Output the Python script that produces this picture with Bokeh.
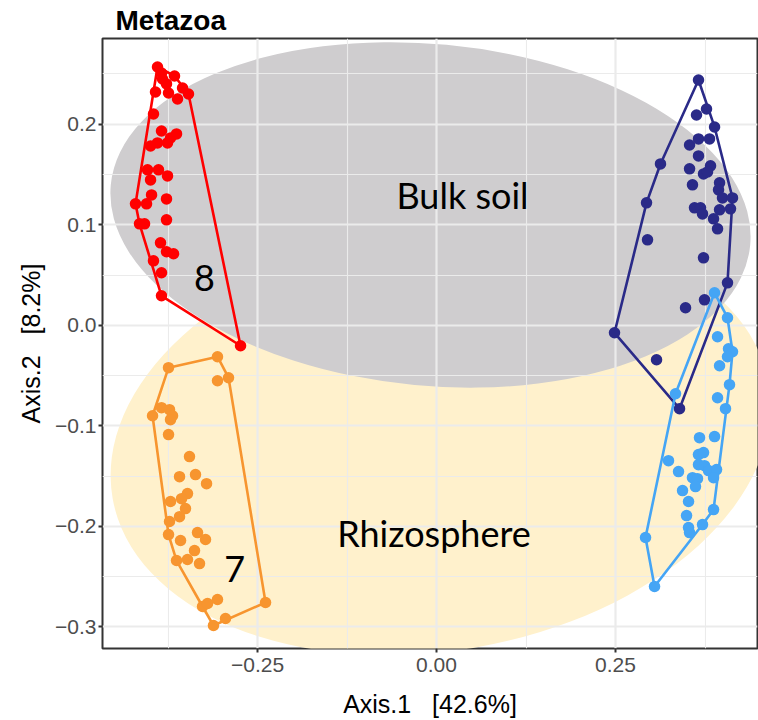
import numpy as np
from bokeh.plotting import figure
from bokeh.models import Range1d, FixedTicker, Label
from bokeh.embed import file_html
from bokeh.resources import INLINE

# ---------------- data ----------------
title_text = "Metazoa"
x_label = "Axis.1\u00a0\u00a0\u00a0[42.6%]"
y_label = "Axis.2\u00a0\u00a0\u00a0[8.2%]"

x_ticks = [-0.25, 0.0, 0.25]
x_tick_labels = ["\u22120.25", "0.00", "0.25"]
x_minor = [-0.375, -0.125, 0.125, 0.375]
y_ticks = [-0.3, -0.2, -0.1, 0.0, 0.1, 0.2]
y_tick_labels = ["\u22120.3", "\u22120.2", "\u22120.1", "0.0", "0.1", "0.2"]
y_minor = [-0.25, -0.15, -0.05, 0.05, 0.15, 0.25]

# Bulk soil (red)
red_x = [-0.3897, -0.3841, -0.3827, -0.3659, -0.3771, -0.3925, -0.3743, -0.3617, -0.3547, -0.3464,
         -0.3953, -0.3841, -0.3994, -0.3897, -0.3757, -0.3715, -0.3631, -0.4036, -0.3883, -0.3994,
         -0.3757, -0.4204, -0.4050, -0.3980, -0.3771, -0.4148, -0.4078, -0.3771, -0.3855, -0.3771,
         -0.3673, -0.3953, -0.3841, -0.3841, -0.2737]
red_y = [0.2570, 0.2510, 0.2450, 0.2480, 0.2401, 0.2321, 0.2311, 0.2251, 0.2361, 0.2301,
         0.2102, 0.1933, 0.1784, 0.1814, 0.1814, 0.1864, 0.1904, 0.1546, 0.1546, 0.1446,
         0.1486, 0.1208, 0.1208, 0.1297, 0.1257, 0.1009, 0.1009, 0.1049, 0.0820, 0.0731,
         0.0711, 0.0641, 0.0522, 0.0293, -0.0204]

# Rhizosphere (orange)
orange_x = [-0.3743, -0.3059, -0.2905, -0.3059, -0.3966, -0.3841, -0.3729, -0.3687, -0.3715, -0.3743,
            -0.3450, -0.3589, -0.3366, -0.3212, -0.3478, -0.3715, -0.3561, -0.3506, -0.3589, -0.3729,
            -0.3743, -0.3338, -0.3575, -0.3226, -0.3380, -0.3631, -0.3478, -0.3310, -0.3268, -0.3198,
            -0.3059, -0.2947, -0.3115, -0.2388]
orange_y = [-0.0422, -0.0313, -0.0522, -0.0552, -0.0900, -0.0820, -0.0840, -0.0900, -0.0939, -0.1088,
            -0.1307, -0.1506, -0.1486, -0.1576, -0.1675, -0.1754, -0.1725, -0.1824, -0.1904, -0.1953,
            -0.2083, -0.2063, -0.2142, -0.2132, -0.2242, -0.2341, -0.2331, -0.2371, -0.2798, -0.2768,
            -0.2729, -0.2918, -0.2987, -0.2758]

# Bulk soil (navy)
navy_x = [0.3659, 0.3771, 0.3631, 0.3883, 0.3659, 0.3813, 0.3534, 0.3659, 0.3128, 0.3534,
          0.3827, 0.3729, 0.3785, 0.3575, 0.3953, 0.3939, 0.3994, 0.4134, 0.2933, 0.3603,
          0.3687, 0.3715, 0.3953, 0.4106, 0.3869, 0.3925, 0.2947, 0.3729, 0.4064, 0.3743,
          0.3478, 0.2486, 0.3073, 0.3394]
navy_y = [0.2440, 0.2152, 0.2092, 0.1973, 0.1854, 0.1854, 0.1794, 0.1685, 0.1605, 0.1556,
          0.1586, 0.1506, 0.1526, 0.1397, 0.1417, 0.1347, 0.1267, 0.1267, 0.1218, 0.1168,
          0.1168, 0.1108, 0.1148, 0.1158, 0.1059, 0.0959, 0.0850, 0.0671, 0.0422, 0.0253,
          0.0174, -0.0075, -0.0343, -0.0830]

# Rhizosphere (light blue)
lblue_x = [0.3883, 0.4064, 0.3925, 0.4078, 0.4134, 0.4064, 0.3953, 0.4092, 0.3925, 0.4036,
           0.3338, 0.3673, 0.3883, 0.3659, 0.3729, 0.3240, 0.3659, 0.3743, 0.3380, 0.3799,
           0.3911, 0.3575, 0.3645, 0.3869, 0.3617, 0.3436, 0.3520, 0.3869, 0.3492, 0.3715,
           0.3520, 0.3534, 0.2919, 0.3045]
lblue_y = [0.0323, 0.0075, -0.0114, -0.0234, -0.0263, -0.0313, -0.0403, -0.0591, -0.0721, -0.0830,
           -0.0681, -0.1118, -0.1108, -0.1287, -0.1267, -0.1347, -0.1387, -0.1397, -0.1456, -0.1446,
           -0.1436, -0.1516, -0.1526, -0.1516, -0.1605, -0.1645, -0.1754, -0.1834, -0.1894, -0.1983,
           -0.2013, -0.2063, -0.2112, -0.2599]

# background ellipses (center x, center y, width, height, angle in radians)
bulk_ellipse = dict(x=-0.0084, y=0.1098, w=0.897, h=0.340, angle=-0.094)
rhizo_ellipse = dict(x=0.0056, y=-0.1148, w=0.930, h=0.4175, angle=0.1745)

# annotation texts
ann_text = ["Bulk soil", "Rhizosphere", "8", "7"]
ann_x = [0.0363, -0.0035, -0.324, -0.282]
ann_y = [0.1298, -0.2062, 0.0466, -0.2427]

# ---------------- helpers ----------------
def convex_hull(xs, ys):
    pts = sorted(set(zip(xs, ys)))
    def cross(o, a, b):
        return (a[0] - o[0]) * (b[1] - o[1]) - (a[1] - o[1]) * (b[0] - o[0])
    lower = []
    for q in pts:
        while len(lower) >= 2 and cross(lower[-2], lower[-1], q) <= 0:
            lower.pop()
        lower.append(q)
    upper = []
    for q in reversed(pts):
        while len(upper) >= 2 and cross(upper[-2], upper[-1], q) <= 0:
            upper.pop()
        upper.append(q)
    h = lower[:-1] + upper[:-1]
    h.append(h[0])
    return [q[0] for q in h], [q[1] for q in h]

# ---------------- figure ----------------
p = figure(width=758, height=720, output_backend="svg", toolbar_location=None,
           x_range=Range1d(-0.4665, 0.4483), y_range=Range1d(-0.3216, 0.2853),
           min_border_left=102, min_border_right=1, min_border_bottom=72, min_border_top=0)

p.title.text = title_text
p.title.align = "left"
p.title.offset = 13
p.title.standoff = 5
p.title.text_font = "Liberation Sans"
p.title.text_font_size = "28px"
p.title.text_font_style = "bold"
p.title.text_color = "black"

p.background_fill_color = "white"
p.border_fill_color = "white"
p.outline_line_color = "#333333"
p.outline_line_width = 2

# grid
for g in (p.xgrid, p.ygrid):
    g.grid_line_color = "#EBEBEB"
    g.grid_line_width = 2.2
    g.minor_grid_line_color = "#EBEBEB"
    g.minor_grid_line_width = 1.1

p.xaxis.ticker = FixedTicker(ticks=x_ticks, minor_ticks=x_minor)
p.yaxis.ticker = FixedTicker(ticks=y_ticks, minor_ticks=y_minor)
p.xgrid.ticker = p.xaxis.ticker
p.ygrid.ticker = p.yaxis.ticker
p.xaxis.major_label_overrides = {t: l for t, l in zip(x_ticks, x_tick_labels)}
p.yaxis.major_label_overrides = {t: l for t, l in zip(y_ticks, y_tick_labels)}

for ax in (p.xaxis, p.yaxis):
    ax.axis_line_color = None
    ax.major_tick_line_color = "#333333"
    ax.major_tick_line_width = 2
    ax.major_tick_out = 4
    ax.major_tick_in = 0
    ax.minor_tick_line_color = None
    ax.major_label_text_font = "Liberation Sans"
    ax.major_label_text_font_size = "21px"
    ax.major_label_text_color = "#4D4D4D"
    ax.axis_label_text_font = "Liberation Sans"
    ax.axis_label_text_font_size = "25px"
    ax.axis_label_text_font_style = "normal"
    ax.axis_label_text_color = "black"
p.xaxis.axis_label = x_label
p.yaxis.axis_label = y_label
p.xaxis.major_label_standoff = 5
p.xaxis.axis_label_standoff = 15
p.yaxis.major_label_standoff = 2
p.yaxis.axis_label_standoff = 7

# ellipses (under the grid)
p.ellipse(x=[rhizo_ellipse["x"]], y=[rhizo_ellipse["y"]], width=[rhizo_ellipse["w"]],
          height=[rhizo_ellipse["h"]], angle=[rhizo_ellipse["angle"]],
          fill_color="#FFF1CC", line_color=None, level="image")
p.ellipse(x=[bulk_ellipse["x"]], y=[bulk_ellipse["y"]], width=[bulk_ellipse["w"]],
          height=[bulk_ellipse["h"]], angle=[bulk_ellipse["angle"]],
          fill_color="#CFCDCF", line_color=None, level="image")

groups = [
    (red_x, red_y, "#FF0000"),
    (orange_x, orange_y, "#F7952F"),
    (navy_x, navy_y, "#2A2A88"),
    (lblue_x, lblue_y, "#45A5F5"),
]
for gx, gy, col in groups:
    hx, hy = convex_hull(gx, gy)
    p.line(hx, hy, line_color=col, line_width=2.6)
    p.scatter(gx, gy, size=11.5, fill_color=col, line_color=None)

for t, x, y in zip(ann_text, ann_x, ann_y):
    p.add_layout(Label(x=x, y=y, text=t, text_align="center", text_baseline="alphabetic",
                       text_font="Lato", text_font_size="36px", text_color="black"))

open("out.html", "w").write(file_html(p, INLINE))
